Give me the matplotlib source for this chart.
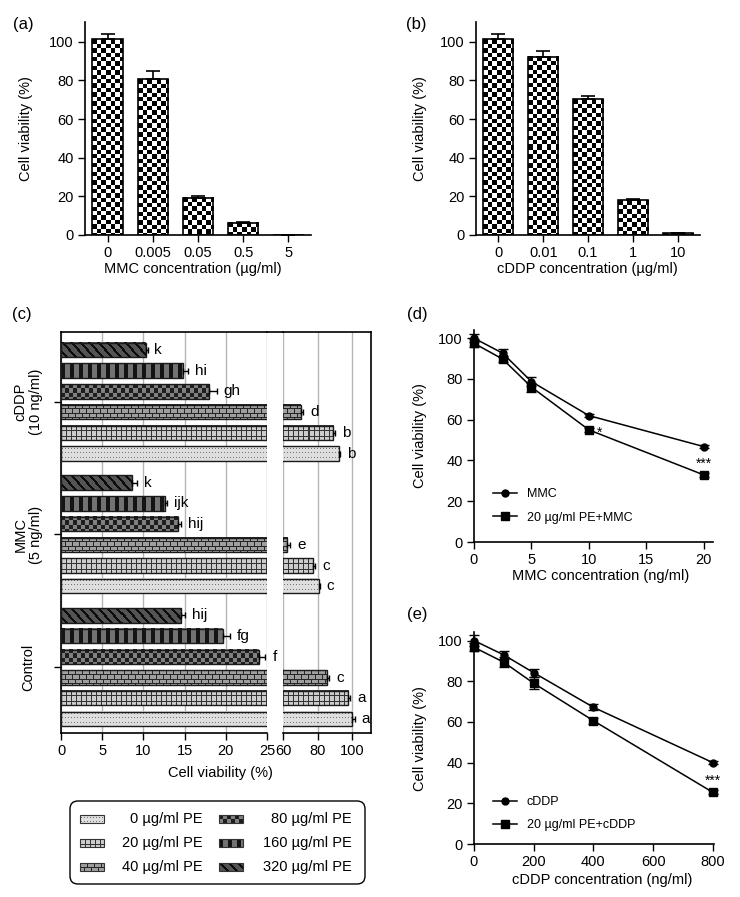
import numpy as np
import matplotlib
matplotlib.use('Agg')
import matplotlib.pyplot as plt
from matplotlib.patches import FancyBboxPatch, Rectangle
from matplotlib.lines import Line2D

plt.rcParams['font.family'] = ['Liberation Sans', 'DejaVu Sans']
plt.rcParams['font.size'] = 10.5

# (a) / (b) single drug bars
mmc_conc = ['0', '0.005', '0.05', '0.5', '5']
mmc_viab = [101.2, 80.5, 19.3, 6.4, 0.0]
mmc_err = [3.0, 4.2, 0.9, 0.3, 0.0]
cddp_conc = ['0', '0.01', '0.1', '1', '10']
cddp_viab = [101.2, 92.2, 70.2, 18.1, 0.9]
cddp_err = [2.9, 3.1, 1.7, 0.7, 0.3]

# (c) PE combination, order: 0, 20, 40, 80, 160, 320 ug/ml PE
groups = ['Control', 'MMC\n(5 ng/ml)', 'cDDP\n(10 ng/ml)']
pe_labels = ['0 µg/ml PE', '20 µg/ml PE', '40 µg/ml PE',
             '80 µg/ml PE', '160 µg/ml PE', '320 µg/ml PE']
control_viab = [100.0, 97.7, 85.5, 24.0, 19.6, 14.6]
control_err = [1.5, 1.2, 1.3, 0.8, 0.9, 0.4]
control_letters = ['a', 'a', 'c', 'f', 'fg', 'hij']
mmc5_viab = [80.7, 77.3, 62.6, 14.2, 12.6, 8.6]
mmc5_err = [0.6, 1.5, 1.5, 0.4, 0.3, 0.6]
mmc5_letters = ['c', 'c', 'e', 'hij', 'ijk', 'k']
cddp10_viab = [92.4, 89.2, 70.4, 18.0, 14.8, 10.3]
cddp10_err = [0.9, 1.0, 1.2, 0.9, 0.6, 0.2]
cddp10_letters = ['b', 'b', 'd', 'gh', 'hi', 'k']

# (d) MMC
mmc_ng = [0, 2.5, 5, 10, 20]
mmc_alone = [100.0, 92.6, 78.7, 62.0, 46.8]
mmc_alone_err = [2.0, 2.0, 2.0, 0.8, 0.8]
mmc_pe = [97.5, 89.7, 76.0, 55.0, 32.9]
mmc_pe_err = [2.0, 1.5, 2.2, 0.8, 0.8]

# (e) cDDP
cddp_ng = [0, 100, 200, 400, 800]
cddp_alone = [100.0, 92.9, 84.2, 67.2, 40.0]
cddp_alone_err = [2.5, 2.0, 2.0, 1.5, 0.6]
cddp_pe = [96.7, 89.3, 79.0, 60.6, 25.4]
cddp_pe_err = [2.0, 2.5, 3.0, 1.5, 1.0]

W, H = 740, 897
fig = plt.figure(figsize=(W / 100, H / 100), dpi=100)


def box(l, t, r, b):
    return [l / W, 1 - b / H, (r - l) / W, (b - t) / H]


def pattern(kind, h, w):
    i, j = np.mgrid[0:h, 0:w]
    if kind == 'checker':
        g = np.where(((i / 4.4).astype(int) + (j / 4.4).astype(int)) % 2 == 0, 0.0, 1.0)
    elif kind == 'dots':
        g = np.full((h, w), 0.87)
        g[(i % 4 == 2) & (j % 3 == 1)] = 0.45
    elif kind == 'grid':
        g = np.full((h, w), 0.80)
        g[(i % 5 == 0) | (j % 5 == 0)] = 0.2
    elif kind == 'brick':
        g = np.full((h, w), 0.62)
        g[(i % 4 == 0) | ((j + 3 * ((i // 4) % 2)) % 7 == 0)] = 0.15
    elif kind == 'gchecker':
        g = np.where(((i // 4) + (j // 4)) % 2 == 0, 0.12, 0.5)
    elif kind == 'stripes':
        g = np.where(j % 9 < 4, 0.08, 0.45)
    else:  # diag
        g = np.where((j - i) % 9 < 3, 0.05, 0.33)
    return g


pe_patterns = ['dots', 'grid', 'brick', 'gchecker', 'stripes', 'diag']


def fill_texture(ax, x0, x1, y0, y1, kind):
    (px0, py0), (px1, py1) = ax.transData.transform([(x0, y0), (x1, y1)])
    w = int(round(abs(px1 - px0)))
    h = int(round(abs(py1 - py0)))
    if w < 1 or h < 1:
        return
    ax.imshow(pattern(kind, h, w), cmap='gray', vmin=0, vmax=1,
              extent=(x0, x1, y0, y1), aspect='auto',
              interpolation='nearest', zorder=2)


def style_axes(ax):
    for s in ['top', 'right']:
        ax.spines[s].set_visible(False)
    for s in ['left', 'bottom']:
        ax.spines[s].set_linewidth(1.2)
    ax.tick_params(direction='out', length=5, width=1, labelsize=10.5, pad=3)


def bar_panel(rect, labels, vals, errs, xlabel, xlab_x, ylab_x):
    ax = fig.add_axes(rect)
    ax.set_xlim(-0.5, 4.5)
    ax.set_ylim(0, 110)
    x = np.arange(len(vals))
    bars = ax.bar(x, vals, width=0.67, facecolor='none', edgecolor='k',
                  linewidth=1.2, zorder=3)
    for p in bars:
        fill_texture(ax, p.get_x(), p.get_x() + p.get_width(), 0, p.get_height(), 'checker')
    ax.errorbar(x, vals, yerr=[np.zeros(len(errs)), errs], fmt='none', ecolor='k',
                elinewidth=1.2, capsize=5, capthick=1.2, zorder=4)
    style_axes(ax)
    ax.set_xticks(x, labels)
    ax.set_yticks([0, 20, 40, 60, 80, 100])
    ax.set_xlabel(xlabel, fontsize=10.5)
    ax.set_ylabel('Cell viability (%)', fontsize=10.5)
    ax.xaxis.set_label_coords(xlab_x, -0.125)
    ax.yaxis.set_label_coords(ylab_x, 0.5)
    ax.set_xlim(-0.5, 4.5)
    ax.set_ylim(0, 110)
    return ax


bar_panel(box(85, 22.4, 311, 235), mmc_conc, mmc_viab, mmc_err,
          'MMC concentration (µg/ml)', 0.479, -0.23)
bar_panel(box(476, 22.4, 700, 235), cddp_conc, cddp_viab, cddp_err,
          'cDDP concentration (µg/ml)', 0.498, -0.22)

# ---- (c) broken-axis horizontal bars
group_step = 6.41
ylo, yhi = -0.68, 18.69
axL = fig.add_axes(box(61, 332, 267, 733))
axR = fig.add_axes(box(283, 332, 371, 733))
group_data = [(control_viab, control_err, control_letters),
              (mmc5_viab, mmc5_err, mmc5_letters),
              (cddp10_viab, cddp10_err, cddp10_letters)]

for ax, lo, hi, ticks in [(axL, 0, 25, [0, 5, 10, 15, 20, 25]),
                          (axR, 60, 111, [60, 80, 100])]:
    ax.set_xlim(lo, hi)
    ax.set_ylim(ylo, yhi)
    for g, (vals, errs, lets) in enumerate(group_data):
        y = g * group_step + np.arange(len(vals))
        bars = ax.barh(y, vals, height=0.7, facecolor='none', edgecolor='#1a1a1a',
                       linewidth=1, zorder=3)
        for p, pat in zip(bars, pe_patterns):
            x1 = min(p.get_width(), hi)
            if x1 > lo:
                fill_texture(ax, lo, x1, p.get_y(), p.get_y() + p.get_height(), pat)
        ax.errorbar(vals, y, xerr=[np.zeros(len(errs)), errs], fmt='none', ecolor='k',
                    elinewidth=1, capsize=2, capthick=1, zorder=4)
        for v, e, yy, t in zip(vals, errs, y, lets):
            if lo < v + e < hi:
                ax.annotate(t, (v + e, yy), xytext=(5, 0), textcoords='offset points',
                            ha='left', va='center', fontsize=11)
    ax.set_xticks(ticks)
    ax.grid(axis='x', color='#b5b5b5', linewidth=1)
    ax.set_axisbelow(True)
    for s in ax.spines.values():
        s.set_linewidth(1.2)
    ax.tick_params(axis='x', direction='out', length=5, width=1, labelsize=10.5, pad=3)
    ax.set_xlim(lo, hi)
    ax.set_ylim(ylo, yhi)

axL.spines['right'].set_visible(False)
axR.spines['left'].set_visible(False)
axR.set_yticks([])
centers = [g * group_step + 2.5 for g in range(len(groups))]
axL.set_yticks(centers, groups)
for t in axL.get_yticklabels():
    t.set_rotation(90)
    t.set_ha('center')
    t.set_va('center')
    t.set_multialignment('center')
axL.tick_params(axis='y', direction='out', length=5, width=1, labelsize=10.5, pad=18.5)
fig.add_artist(Line2D([267 / W, 283 / W], [1 - 332 / H] * 2, color='k', lw=1.2))
fig.text(220 / W, 1 - 766 / H, 'Cell viability (%)', ha='center', va='top', fontsize=10.5)

# legend for (c)
lax = fig.add_axes(box(68, 799, 367, 886))
lax.set_xlim(68, 367)
lax.set_ylim(886, 799)
lax.axis('off')
lax.add_patch(FancyBboxPatch((70, 801), 295, 83, boxstyle='round,pad=0,rounding_size=8',
                             fc='white', ec='k', lw=1))
row_y = [819, 843, 867]
for n, (lab, pat) in enumerate(zip(pe_labels, pe_patterns)):
    col, row = divmod(n, 3)
    sx = 80 if col == 0 else 219
    tx = 203 if col == 0 else 352
    yc = row_y[row]
    fill_texture(lax, sx, sx + 24, yc + 4, yc - 4, pat)
    lax.add_patch(Rectangle((sx, yc - 4), 24, 8, fill=False, ec='#333333', lw=0.8, zorder=3))
    lax.text(tx, yc, lab, ha='right', va='center', fontsize=10.5)
lax.set_xlim(68, 367)
lax.set_ylim(886, 799)


# ---- (d) / (e) curves
def curve_panel(rect, x, y1, e1, y2, e2, lab1, lab2, xlim, xticks, xlabel,
                xlab_x, xlab_y, leg_y, star_specs):
    ax = fig.add_axes(rect)
    ax.errorbar(x, y1, yerr=e1, fmt='none', ecolor='k', elinewidth=1, capsize=3.5,
                capthick=1, zorder=3, clip_on=False)
    ax.errorbar(x, y2, yerr=e2, fmt='none', ecolor='k', elinewidth=1, capsize=3.5,
                capthick=1, zorder=3, clip_on=False)
    ax.plot(x, y1, '-o', color='k', ms=5, lw=1.1, label=lab1, clip_on=False, zorder=4)
    ax.plot(x, y2, '-s', color='k', ms=5.5, lw=1.1, label=lab2, clip_on=False, zorder=4)
    for xs, ys, txt, dx, dy in star_specs:
        ax.annotate(txt, (xs, ys), xytext=(dx, dy), textcoords='offset points',
                    ha='left' if dx else 'center', va='center', fontsize=10)
    style_axes(ax)
    ax.set_xlim(*xlim)
    ax.set_ylim(0, 104)
    ax.set_xticks(xticks)
    ax.set_yticks([0, 20, 40, 60, 80, 100])
    ax.set_xlabel(xlabel, fontsize=10.5)
    ax.set_ylabel('Cell viability (%)', fontsize=10.5)
    ax.xaxis.set_label_coords(xlab_x, xlab_y)
    ax.yaxis.set_label_coords(-0.197, 0.5)
    ax.legend(loc='center left', bbox_to_anchor=(0.08, leg_y), frameon=False,
              fontsize=9, handlelength=1.9, handletextpad=0.8, labelspacing=0.9,
              borderpad=0, borderaxespad=0)
    return ax


curve_panel(box(474, 330, 713, 542), mmc_ng, mmc_alone, mmc_alone_err, mmc_pe, mmc_pe_err,
            'MMC', '20 µg/ml PE+MMC', (0, 20.8), [0, 5, 10, 15, 20],
            'MMC concentration (ng/ml)', 0.53, -0.127, 0.17,
            [(10, mmc_pe[3], '*', 6, -2), (20, mmc_pe[4], '***', 0, 8)])
curve_panel(box(474, 632.4, 714.3, 844), cddp_ng, cddp_alone, cddp_alone_err, cddp_pe,
            cddp_pe_err, 'cDDP', '20 µg/ml PE+cDDP', (0, 805), [0, 200, 400, 600, 800],
            'cDDP concentration (ng/ml)', 0.534, -0.135, 0.144,
            [(800, cddp_pe[4], '***', 0, 8)])

for txt, x, y in [('(a)', 13, 25), ('(b)', 406, 25), ('(c)', 12, 315),
                  ('(d)', 407, 315), ('(e)', 407, 615)]:
    fig.text(x / W, 1 - y / H, txt, ha='left', va='center', fontsize=12)

fig.savefig('out.png', dpi=100)
